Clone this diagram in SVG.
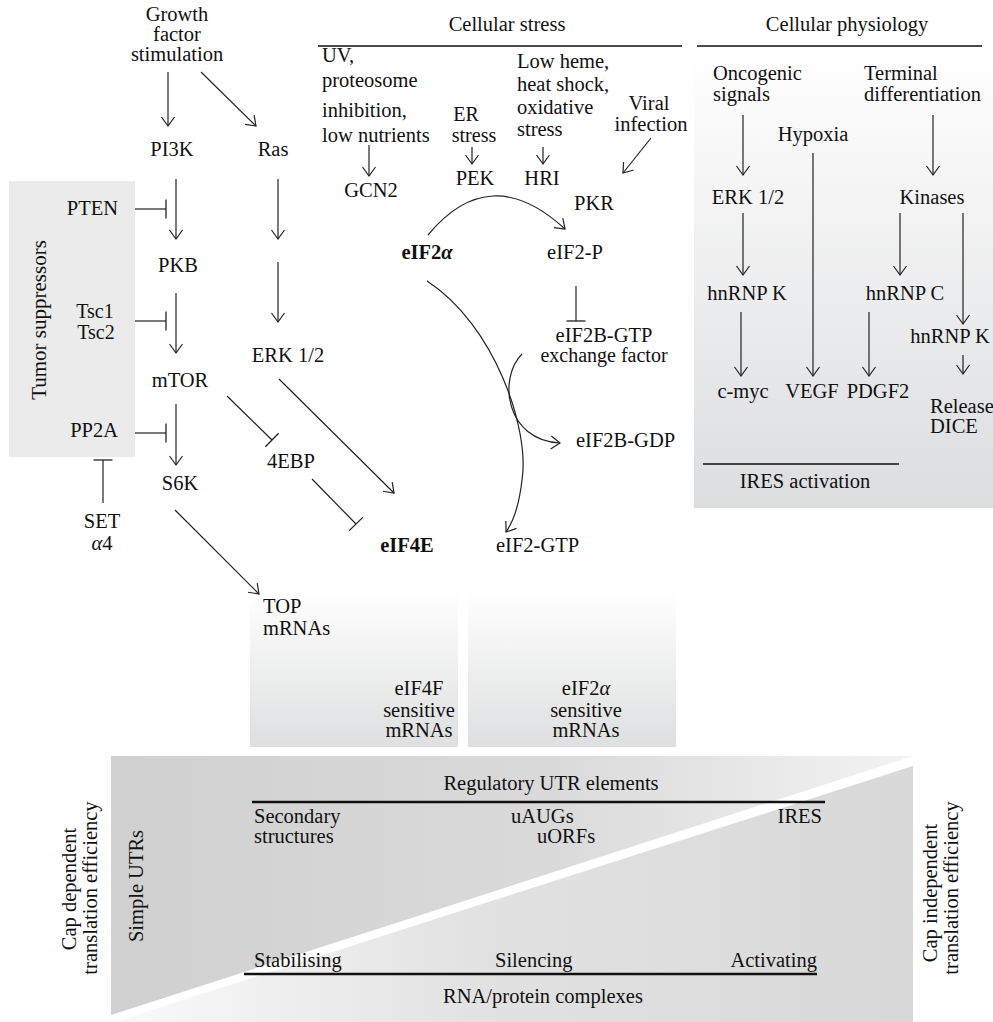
<svg xmlns="http://www.w3.org/2000/svg" width="993" height="1022" viewBox="0 0 993 1022">
<defs>
  <style>
    text { font-family: "Liberation Serif", "Times New Roman", serif; font-size: 20.5px; fill: #111; }
    .m { text-anchor: middle; }
    .e { text-anchor: end; }
    .b { font-weight: bold; }
    .s { font-size: 20px; }
    .r { font-size: 20.5px; }
    .c { fill: none; stroke: #222; stroke-width: 1.2; }
    .arr { marker-end: url(#ah); }
    .inh { marker-end: url(#bar); }
    .hdr { stroke: #111; stroke-width: 1.3; }
    .thick { stroke: #111; stroke-width: 2.6; }
  </style>
  <marker id="ah" markerUnits="userSpaceOnUse" markerWidth="24" markerHeight="24" refX="12" refY="12" orient="auto" viewBox="0 0 24 24">
    <path d="M3,5.5 L12,12 L3,18.5" fill="none" stroke="#222" stroke-width="1.2"/>
  </marker>
  <marker id="bar" markerUnits="userSpaceOnUse" markerWidth="24" markerHeight="24" refX="12" refY="12" orient="auto" viewBox="0 0 24 24">
    <path d="M12,2.5 L12,21.5" fill="none" stroke="#222" stroke-width="1.3"/>
  </marker>
  <linearGradient id="gv" x1="0" y1="0" x2="0" y2="1">
    <stop offset="0" stop-color="#ffffff"/>
    <stop offset="1" stop-color="#dedfe0"/>
  </linearGradient>
  <linearGradient id="gr" x1="0" y1="0" x2="0" y2="1">
    <stop offset="0" stop-color="#ffffff"/>
    <stop offset="1" stop-color="#dcdddf"/>
  </linearGradient>
  <linearGradient id="gup" gradientUnits="userSpaceOnUse" x1="111" y1="0" x2="913" y2="0">
    <stop offset="0" stop-color="#d0d0d0"/>
    <stop offset="0.55" stop-color="#dadadb"/>
    <stop offset="1" stop-color="#f3f3f3"/>
  </linearGradient>
  <linearGradient id="glo" gradientUnits="userSpaceOnUse" x1="114" y1="0" x2="913" y2="0">
    <stop offset="0" stop-color="#fafafa"/>
    <stop offset="0.45" stop-color="#e2e2e3"/>
    <stop offset="1" stop-color="#d8d8d9"/>
  </linearGradient>
</defs>

<g id="backgrounds">
  <rect x="9" y="181" width="126" height="276" fill="#ebebeb"/>
  <rect x="694" y="50" width="299" height="458" fill="url(#gr)"/>
  <rect x="250" y="590" width="208" height="157" fill="url(#gv)"/>
  <rect x="468" y="590" width="208" height="157" fill="url(#gv)"/>
  <polygon points="111,756 913,756 111,1015" fill="url(#gup)"/>
  <polygon points="913,766 913,1022 114,1022" fill="url(#glo)"/>
</g>

<g id="headers">
  <text class="m" x="507" y="31">Cellular stress</text>
  <line class="hdr" x1="318" y1="46" x2="682" y2="46"/>
  <text class="m" x="847" y="31">Cellular physiology</text>
  <line class="hdr" x1="697" y1="46" x2="982" y2="46"/>
</g>

<g id="connectors">
  <line class="c arr" x1="168" y1="72" x2="168" y2="126"/>
  <line class="c arr" x1="201" y1="72" x2="256" y2="126"/>
  <line class="c arr" x1="176" y1="179" x2="176" y2="239"/>
  <line class="c arr" x1="278" y1="179" x2="278" y2="239"/>
  <line class="c arr" x1="278" y1="262" x2="278" y2="322"/>
  <line class="c arr" x1="176" y1="293" x2="176" y2="353"/>
  <line class="c arr" x1="176" y1="404" x2="176" y2="465"/>
  <line class="c inh" x1="135" y1="209" x2="166" y2="209"/>
  <line class="c inh" x1="135" y1="321" x2="166" y2="321"/>
  <line class="c inh" x1="135" y1="433" x2="166" y2="433"/>
  <line class="c inh" x1="103" y1="503" x2="103" y2="460"/>
  <line class="c inh" x1="227" y1="396" x2="272" y2="440"/>
  <line class="c arr" x1="279" y1="379" x2="394" y2="493"/>
  <line class="c inh" x1="312" y1="479" x2="356" y2="524"/>
  <line class="c arr" x1="175" y1="510" x2="259" y2="594"/>

  <line class="c arr" x1="369" y1="145" x2="369" y2="176"/>
  <line class="c arr" x1="472" y1="147" x2="472" y2="164"/>
  <line class="c arr" x1="543" y1="147" x2="543" y2="164"/>
  <line class="c arr" x1="651" y1="138" x2="623" y2="173"/>
  <path class="c arr" d="M428,235 Q490,160 565,229"/>
  <line class="c inh" x1="576" y1="286" x2="576" y2="321"/>
  <path class="c arr" d="M427,281 C495,325 530,430 522,480 Q518,515 506,532"/>
  <path class="c arr" d="M522,354 C498,378 505,440 560,443"/>

  <line class="c arr" x1="743" y1="115" x2="743" y2="175"/>
  <line class="c arr" x1="813" y1="153" x2="813" y2="376"/>
  <line class="c arr" x1="933" y1="115" x2="933" y2="175"/>
  <line class="c arr" x1="743" y1="213" x2="743" y2="275"/>
  <line class="c arr" x1="900" y1="213" x2="900" y2="275"/>
  <line class="c arr" x1="963" y1="213" x2="963" y2="324"/>
  <line class="c arr" x1="741" y1="312" x2="741" y2="376"/>
  <line class="c arr" x1="869" y1="312" x2="869" y2="376"/>
  <line class="c arr" x1="963" y1="355" x2="963" y2="374"/>
  <line class="hdr" x1="703" y1="464" x2="899" y2="464"/>
</g>

<g id="growth"><text class="m" x="177" y="21">Growth</text><text class="m" x="177" y="41">factor</text><text class="m" x="177" y="61">stimulation</text></g>
<g id="pi3k"><text class="m" x="172" y="156">PI3K</text></g>
<g id="ras"><text class="m" x="273" y="156">Ras</text></g>
<g id="pkb"><text class="m" x="178" y="272">PKB</text></g>
<g id="mtor"><text class="m" x="180" y="387">mTOR</text></g>
<g id="s6k"><text class="m" x="180" y="490">S6K</text></g>
<g id="erk-left"><text class="m" x="288" y="362">ERK 1/2</text></g>
<g id="4ebp"><text class="m" x="291" y="468">4EBP</text></g>
<g id="eif4e"><text class="m b" x="407" y="552">eIF4E</text></g>
<g id="top"><text x="263" y="613">TOP</text><text x="263" y="635">mRNAs</text></g>
<g id="tumor"><text class="m" x="46" y="320" transform="rotate(-90 46 320)" style="font-size:21px">Tumor suppressors</text></g>
<g id="pten"><text class="e" x="118" y="215">PTEN</text></g>
<g id="tsc"><text class="m s" x="95" y="318">Tsc1</text><text class="m s" x="96" y="339">Tsc2</text></g>
<g id="pp2a"><text class="e" x="118" y="437">PP2A</text></g>
<g id="set"><text class="m" x="102" y="528">SET</text><text class="m" x="102" y="550"><tspan font-style="italic">α</tspan>4</text></g>
<g id="eif4f-box"><text class="m" x="419" y="695">eIF4F</text><text class="m" x="419" y="717">sensitive</text><text class="m" x="419" y="737">mRNAs</text></g>
<g id="eif2a-box"><text class="m" x="586" y="695">eIF2<tspan font-style="italic">α</tspan></text><text class="m" x="586" y="717">sensitive</text><text class="m" x="586" y="737">mRNAs</text></g>

<g id="uv"><text x="322" y="62">UV,</text><text x="322" y="87">proteosome</text><text x="322" y="117">inhibition,</text><text x="322" y="142">low nutrients</text></g>
<g id="gcn2"><text class="m" x="371" y="197">GCN2</text></g>
<g id="er"><text class="m s" x="466" y="121">ER</text><text class="m s" x="474" y="142">stress</text></g>
<g id="pek"><text class="m" x="475" y="185">PEK</text></g>
<g id="heme"><text x="517" y="68">Low heme,</text><text x="517" y="91">heat shock,</text><text x="517" y="114">oxidative</text><text x="517" y="136">stress</text></g>
<g id="hri"><text class="m" x="542" y="185">HRI</text></g>
<g id="viral"><text class="m" x="649" y="110">Viral</text><text class="m" x="651" y="131">infection</text></g>
<g id="pkr"><text class="m" x="594" y="210">PKR</text></g>
<g id="eif2a"><text class="m b" x="427" y="259">eIF2<tspan font-style="italic">α</tspan></text></g>
<g id="eif2p"><text class="m" x="575" y="259">eIF2-P</text></g>
<g id="eif2b-gtp"><text class="m" x="604" y="342">eIF2B-GTP</text><text class="m s" x="604" y="362">exchange factor</text></g>
<g id="eif2b-gdp"><text x="576" y="447">eIF2B-GDP</text></g>
<g id="eif2-gtp"><text x="496" y="552">eIF2-GTP</text></g>

<g id="oncogenic"><text x="713" y="80">Oncogenic</text><text x="713" y="101">signals</text></g>
<g id="terminal"><text x="864" y="80">Terminal</text><text x="864" y="101">differentiation</text></g>
<g id="hypoxia"><text class="m" x="813" y="141">Hypoxia</text></g>
<g id="erk-right"><text class="m" x="748" y="204">ERK 1/2</text></g>
<g id="kinases"><text class="m" x="932" y="204">Kinases</text></g>
<g id="hnrnpk1"><text class="m" x="747" y="300">hnRNP K</text></g>
<g id="hnrnpc"><text class="m" x="905" y="300">hnRNP C</text></g>
<g id="hnrnpk2"><text class="m" x="950" y="343">hnRNP K</text></g>
<g id="cmyc"><text class="m" x="743" y="398">c-myc</text></g>
<g id="vegf"><text class="m" x="812" y="398">VEGF</text></g>
<g id="pdgf2"><text class="m" x="878" y="398">PDGF2</text></g>
<g id="release"><text x="930" y="413">Release</text><text x="930" y="433">DICE</text></g>
<g id="ires-act"><text class="m" x="805" y="488">IRES activation</text></g>

<g id="utr">
  <text class="m" x="551" y="790">Regulatory UTR elements</text>
  <line class="thick" x1="252" y1="802" x2="825" y2="802"/>
  <text x="254" y="823">Secondary</text><text x="254" y="843">structures</text>
  <text x="511" y="823">uAUGs</text><text x="537" y="843">uORFs</text>
  <text class="e" x="822" y="823">IRES</text>
  <text x="254" y="967">Stabilising</text>
  <text x="495" y="967">Silencing</text>
  <text class="e" x="817" y="967">Activating</text>
  <line class="thick" x1="244" y1="974" x2="817" y2="974"/>
  <text class="m" x="543" y="1003">RNA/protein complexes</text>
  <text class="m r" x="76" y="889" transform="rotate(-90 76 889)">Cap dependent</text>
  <text class="m r" x="97" y="888" transform="rotate(-90 97 888)">translation efficiency</text>
  <text class="m" x="143" y="886" transform="rotate(-90 143 886)">Simple UTRs</text>
  <text class="m r" x="937" y="893" transform="rotate(-90 937 893)">Cap independent</text>
  <text class="m r" x="958" y="888" transform="rotate(-90 958 888)">translation efficiency</text>
</g>
</svg>
